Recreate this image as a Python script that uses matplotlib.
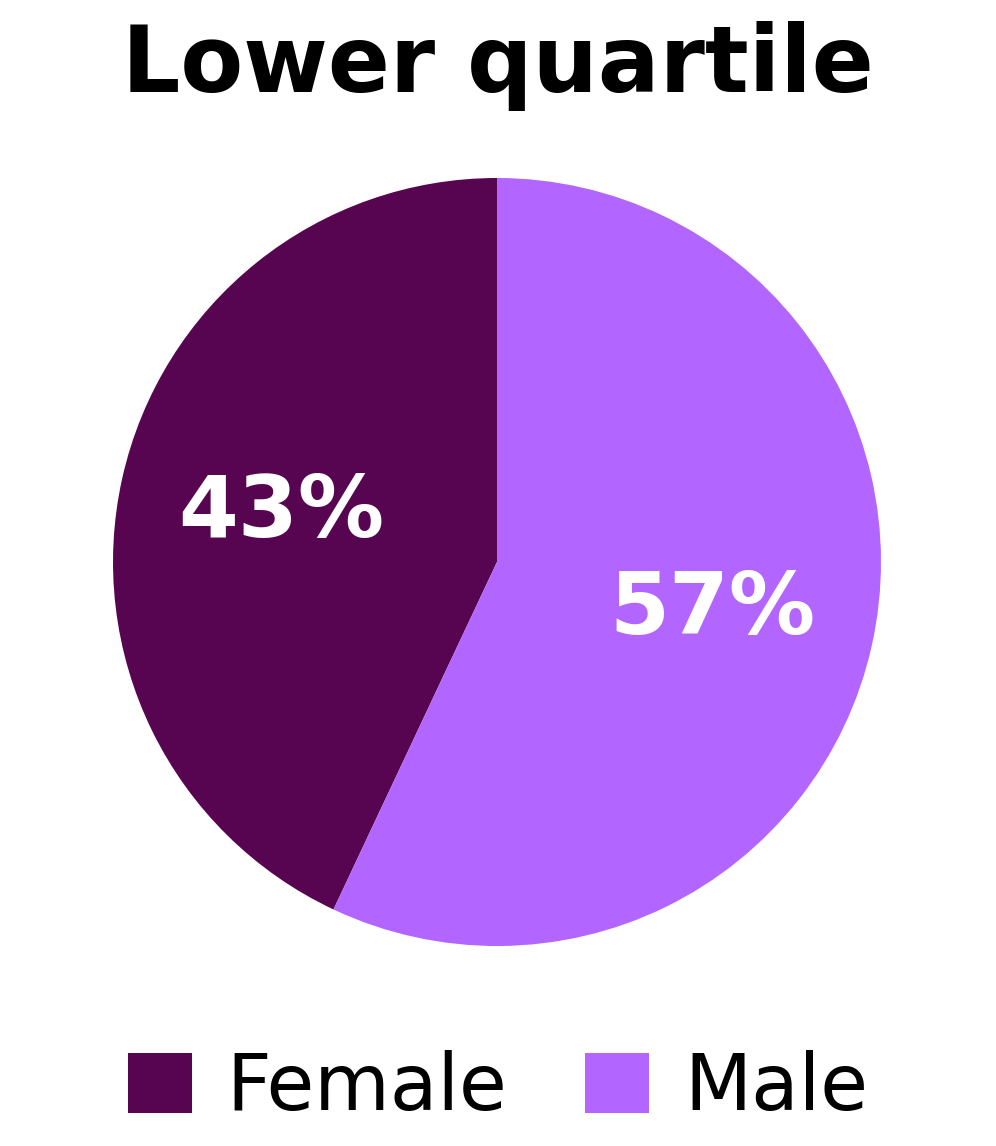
import matplotlib
matplotlib.use('Agg')
from matplotlib import pyplot as plt
from matplotlib.patches import Patch

plt.rcParams['font.family'] = ['DejaVu Sans']

# data
title = "Lower quartile"
labels = ["Female", "Male"]
shares = [43, 57]
colors = ["#570550", "#B266FF"]

fig = plt.figure(figsize=(9.96, 11.46), dpi=100)

# pie axes: centre ~ (497, 562) px, radius ~384 px
ax = fig.add_axes([(497 - 384) / 996, 1 - (562 + 384) / 1146, 768 / 996, 768 / 1146])

wedges, texts, autotexts = ax.pie(
    shares, colors=colors, startangle=90, counterclock=True,
    autopct=lambda p: "%d%%" % round(p), pctdistance=0.575,
    wedgeprops=dict(linewidth=0),
    textprops=dict(color="white", fontsize=62, fontweight="bold"))
ax.set_xlim(-1, 1)
ax.set_ylim(-1, 1)
ax.set_aspect("equal")

fig.text(0.5, 1 - 66 / 1146, title, ha="center", va="center",
         fontsize=66, fontweight="bold", color="black")

handles = [Patch(facecolor=c, edgecolor="none") for c in colors]
fig.legend(handles, labels, loc="center", bbox_to_anchor=(0.5, 1 - 1088 / 1146),
           ncol=2, frameon=False, fontsize=56, handlelength=0.82, handleheight=0.82,
           handletextpad=0.45, columnspacing=1.0)

fig.savefig("out.png", dpi=100)
